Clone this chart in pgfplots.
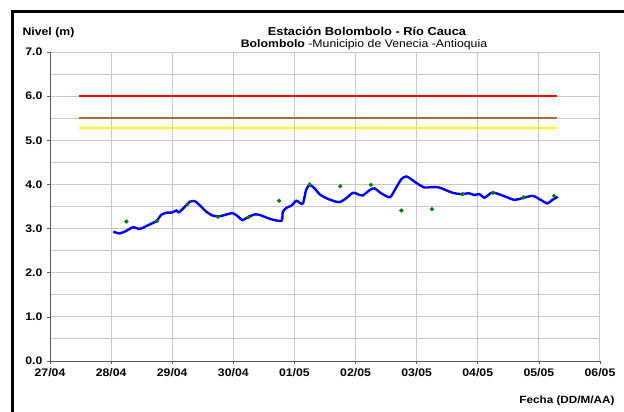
\documentclass[border=0pt]{standalone}
\usepackage{pgfplots}
\pgfplotsset{compat=1.18}
\usepackage{fontspec}
\setmainfont{Liberation Sans}[FakeStretch=1.12]
\definecolor{gridgray}{RGB}{200,200,200}
\definecolor{axgray}{RGB}{90,90,90}
\definecolor{lineblue}{RGB}{0,0,255}
\definecolor{dotgreen}{RGB}{0,128,0}
\definecolor{lbrown}{RGB}{168,110,60}
\definecolor{lyellow}{RGB}{255,255,0}
\definecolor{lred}{RGB}{255,0,0}
\begin{document}
\begin{tikzpicture}
\path[use as bounding box] (0,0) rectangle (624bp,412bp);
\draw[line width=3bp] (12.5bp,0) -- (12.5bp,400.5bp) -- (624bp,400.5bp);
\begin{axis}[
  at={(50bp,51bp)}, anchor=south west,
  scale only axis, width=550bp, height=309bp,
  xmin=0, xmax=9, ymin=0, ymax=7,
  axis x line*=bottom, axis y line*=left,
  axis line style={axgray, line width=0.8pt, -},
  xtick={0,1,...,9},
  xticklabels={27/04,28/04,29/04,30/04,01/05,02/05,03/05,04/05,05/05,06/05},
  ytick={0,1,...,7},
  minor y tick num=1,
  minor tick length=0pt,
  major tick length=3bp,
  tick align=outside,
  tick style={axgray, line width=0.6pt},
  grid=both,
  major grid style={gridgray, line width=1pt},
  minor grid style={gridgray, line width=1pt},
  yticklabel={\pgfmathprintnumber[fixed,fixed zerofill,precision=1]{\tick}},
  /pgf/number format/assume math mode=true,
  ticklabel style={font=\bfseries\fontsize{11}{12}\selectfont},
  yticklabel style={xshift=-1bp},
  xticklabel style={yshift=-1bp},
  clip=false,
]
\addplot[lred, line width=1.8bp] coordinates {(0.47,6.0) (8.30,6.0)};
\addplot[lbrown, line width=1.8bp] coordinates {(0.47,5.5) (8.30,5.5)};
\addplot[lyellow, line width=1.8bp] coordinates {(0.47,5.285) (8.30,5.285)};
\addplot[lineblue, line width=2.4bp, smooth, tension=0.45] coordinates {
(1.035,2.93) (1.14,2.89) (1.25,2.95) (1.36,3.03) (1.47,2.99) (1.58,3.06)
(1.74,3.17) (1.82,3.31) (1.91,3.36) (1.99,3.36) (2.07,3.41) (2.11,3.37)
(2.21,3.50) (2.29,3.61) (2.37,3.62) (2.45,3.53) (2.56,3.38) (2.67,3.29)
(2.78,3.28) (2.89,3.32) (2.99,3.35) (3.08,3.27) (3.15,3.19) (3.24,3.26)
(3.35,3.32) (3.43,3.31) (3.54,3.25) (3.65,3.20) (3.79,3.18) (3.81,3.38)
(3.87,3.47) (3.95,3.52) (4.03,3.63) (4.08,3.59) (4.14,3.57) (4.19,3.87)
(4.25,3.99) (4.33,3.91) (4.41,3.78) (4.52,3.69) (4.63,3.63) (4.74,3.60)
(4.85,3.69) (4.96,3.81) (5.07,3.76) (5.12,3.75) (5.23,3.87) (5.31,3.91)
(5.42,3.80) (5.56,3.71) (5.64,3.87) (5.75,4.12) (5.83,4.18) (5.91,4.12)
(6.02,4.01) (6.13,3.93) (6.24,3.94) (6.37,3.93) (6.48,3.87) (6.59,3.81)
(6.73,3.78) (6.86,3.80) (6.94,3.76) (7.03,3.78) (7.11,3.70) (7.22,3.81)
(7.30,3.80) (7.46,3.72) (7.60,3.65) (7.73,3.69) (7.90,3.74) (8.03,3.65)
(8.14,3.57) (8.22,3.65) (8.31,3.72)
};
\addplot[only marks, mark=*, mark size=1.9bp, dotgreen, mark options={draw=dotgreen, fill=dotgreen}] coordinates {
(1.25,3.16) (1.75,3.17) (2.25,3.55) (2.75,3.27) (3.25,3.26) (3.75,3.63)
(4.25,4.00) (4.75,3.96) (5.25,3.99) (5.75,3.41) (6.25,3.44) (6.75,3.78)
(7.25,3.81) (7.75,3.71) (8.25,3.74)
};
\end{axis}
\node[anchor=west, font=\bfseries\fontsize{11}{12}\selectfont] at (19bp,379bp) {Nivel (m)};
\node[font=\bfseries\fontsize{11.5}{12}\selectfont] at (367bp,380.5bp) {Estación Bolombolo - Río Cauca};
\node[font=\fontsize{11}{12}\selectfont] at (364bp,367.5bp) {\textbf{Bolombolo} -Municipio de Venecia -Antioquia};
\node[anchor=east, font=\bfseries\fontsize{10.5}{12}\selectfont] at (618bp,11bp) {Fecha (DD/M/AA)};
\end{tikzpicture}
\end{document}
